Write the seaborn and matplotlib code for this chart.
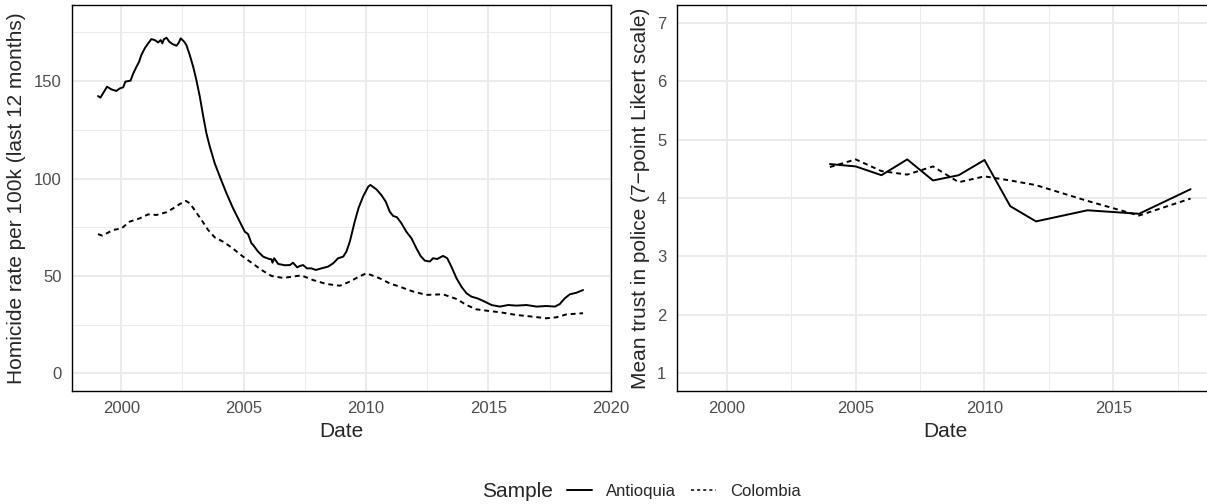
import numpy as np
import pandas as pd
import matplotlib
matplotlib.use("Agg")
import matplotlib.pyplot as plt
from matplotlib.lines import Line2D
import seaborn as sns

# ---------------- data ----------------
hom_ant_year = [1999.05, 1999.15, 1999.42, 1999.60, 1999.80, 1999.94, 2000.08, 2000.17, 2000.38, 2000.48,
                2000.59, 2000.73, 2000.82, 2000.96, 2001.10, 2001.23, 2001.37, 2001.51, 2001.61, 2001.68,
                2001.74, 2001.85, 2001.96, 2002.09, 2002.26, 2002.35, 2002.43, 2002.57, 2002.66, 2002.80,
                2002.94, 2003.07, 2003.21, 2003.34, 2003.48, 2003.62, 2003.82, 2004.03, 2004.30, 2004.57,
                2004.84, 2005.05, 2005.18, 2005.32, 2005.39, 2005.59, 2005.80, 2006.00, 2006.14, 2006.18,
                2006.25, 2006.41, 2006.68, 2006.89, 2007.02, 2007.19, 2007.29, 2007.43, 2007.59, 2007.77,
                2007.95, 2008.18, 2008.45, 2008.66, 2008.86, 2009.07, 2009.20, 2009.34, 2009.54, 2009.70,
                2009.88, 2010.09, 2010.18, 2010.43, 2010.63, 2010.81, 2010.97, 2011.11, 2011.27, 2011.45,
                2011.65, 2011.86, 2012.06, 2012.23, 2012.40, 2012.61, 2012.74, 2012.91, 2013.15, 2013.32,
                2013.49, 2013.70, 2013.90, 2014.11, 2014.31, 2014.58, 2014.86, 2015.13, 2015.47, 2015.81,
                2016.15, 2016.56, 2016.97, 2017.37, 2017.72, 2017.92, 2018.12, 2018.33, 2018.60, 2018.87]
hom_ant_rate = [142.3, 141.5, 147.1, 145.7, 144.9, 146.2, 146.8, 149.7, 150.2, 153.6,
                156.5, 159.9, 163.3, 166.8, 169.3, 171.5, 171.0, 169.8, 171.0, 169.3,
                171.4, 172.2, 170.2, 169.0, 168.1, 169.7, 171.9, 170.2, 168.5, 163.3,
                157.3, 150.5, 142.0, 132.6, 123.2, 116.3, 107.8, 100.9, 92.4, 84.7,
                77.9, 72.7, 71.5, 66.8, 65.9, 62.5, 59.9, 58.9, 58.5, 56.8,
                59.1, 56.2, 55.5, 55.6, 56.8, 54.4, 55.1, 55.6, 53.9, 53.9,
                53.1, 53.9, 54.8, 56.5, 59.1, 59.9, 62.5, 67.6, 77.9, 85.0,
                90.7, 95.8, 96.7, 94.4, 91.5, 88.1, 83.0, 80.8, 80.1, 77.0,
                72.7, 69.3, 64.2, 60.3, 57.9, 57.4, 59.1, 58.7, 60.3, 59.1,
                54.8, 48.8, 44.5, 41.1, 39.4, 38.4, 36.8, 35.1, 34.3, 35.1,
                34.8, 35.1, 34.3, 34.6, 34.3, 35.6, 38.5, 40.6, 41.4, 42.8]

hom_col_year = [1999.05, 1999.22, 1999.67, 2000.01, 2000.35, 2000.76, 2001.10, 2001.44, 2001.85, 2002.19,
                2002.39, 2002.64, 2002.80, 2003.00, 2003.28, 2003.55, 2003.82, 2004.16, 2004.50, 2004.98,
                2005.39, 2005.73, 2006.14, 2006.61, 2007.02, 2007.36, 2007.84, 2008.38, 2008.93, 2009.34,
                2009.72, 2010.02, 2010.56, 2010.97, 2011.38, 2011.93, 2012.47, 2013.15, 2013.70, 2014.11,
                2014.51, 2014.99, 2015.47, 2016.15, 2016.83, 2017.37, 2017.78, 2018.19, 2018.87]
hom_col_rate = [71.5, 70.7, 73.6, 74.4, 77.9, 79.6, 81.6, 81.3, 82.7, 85.2,
                86.9, 88.5, 87.3, 83.8, 78.7, 73.6, 69.8, 67.6, 64.7, 59.9,
                56.2, 53.1, 50.0, 49.0, 49.7, 50.3, 47.9, 45.9, 45.0, 47.1,
                49.7, 51.4, 48.8, 46.2, 44.5, 42.0, 40.3, 40.6, 38.2, 35.1,
                32.9, 32.1, 31.4, 30.0, 29.1, 28.3, 28.8, 30.3, 30.9]

trust_ant_year = [2004, 2005, 2006, 2007, 2008, 2009, 2010, 2011, 2012, 2014, 2016, 2018]
trust_ant_val = [4.58, 4.54, 4.39, 4.66, 4.30, 4.39, 4.65, 3.86, 3.60, 3.79, 3.73, 4.15]
trust_col_year = [2004, 2005, 2006, 2007, 2008, 2009, 2010, 2011, 2012, 2014, 2016, 2018]
trust_col_val = [4.53, 4.66, 4.46, 4.40, 4.54, 4.27, 4.37, 4.30, 4.22, 3.95, 3.70, 3.99]

samples = ["Antioquia", "Colombia"]
left_yticks = [0, 50, 100, 150]
right_yticks = [1, 2, 3, 4, 5, 6, 7]
left_xticks = [2000, 2005, 2010, 2015, 2020]
right_xticks = [2000, 2005, 2010, 2015]

hom = pd.concat([
    pd.DataFrame({"Date": hom_ant_year, "value": hom_ant_rate, "Sample": samples[0]}),
    pd.DataFrame({"Date": hom_col_year, "value": hom_col_rate, "Sample": samples[1]}),
])
trust = pd.concat([
    pd.DataFrame({"Date": trust_ant_year, "value": trust_ant_val, "Sample": samples[0]}),
    pd.DataFrame({"Date": trust_col_year, "value": trust_col_val, "Sample": samples[1]}),
])

# ---------------- style ----------------
sns.set_style("white")
plt.rcParams["font.family"] = ["Liberation Sans", "DejaVu Sans"]

W, H = 1207, 504
fig = plt.figure(figsize=(W / 100, H / 100), dpi=100)

def px_axes(x0, y0, x1, y1):
    return fig.add_axes([x0 / W, 1 - y1 / H, (x1 - x0) / W, (y1 - y0) / H])

ax1 = px_axes(72.3, 5, 610.7, 391)
ax2 = px_axes(676.7, 5, 1215, 391)

dashes = {"Antioquia": "", "Colombia": (2.5, 2.0)}
pal = {"Antioquia": "black", "Colombia": "black"}
GRID = "#EBEBEB"
TICKC = "#4D4D4D"

for ax, df in [(ax1, hom), (ax2, trust)]:
    sns.lineplot(data=df, x="Date", y="value", hue="Sample", style="Sample",
                 palette=pal, dashes=dashes, estimator=None, sort=False,
                 linewidth=1.4, legend=False, ax=ax, zorder=3)

# limits
ax1.set_xlim(1998.0, 2020.0)
ax1.set_ylim(-9, 189)
ax2.set_xlim(1998.05, 2018.95)
ax2.set_ylim(0.7, 7.3)

ax1.set_xticks(left_xticks)
ax1.set_yticks(left_yticks)
ax1.set_xticks([1997.5 + 5 * i for i in range(1, 5)], minor=True)
ax1.set_yticks([25, 75, 125, 175], minor=True)
ax2.set_xticks(right_xticks)
ax2.set_yticks(right_yticks)
ax2.set_xticks([2002.5, 2007.5, 2012.5, 2017.5], minor=True)

for ax in (ax1, ax2):
    ax.set_axisbelow(True)
    ax.grid(which="major", color=GRID, linewidth=1.5)
    ax.grid(which="minor", color=GRID, linewidth=0.75)
    ax.tick_params(which="both", length=0, pad=7.5, labelsize=12, labelcolor=TICKC)
    for s in ax.spines.values():
        s.set_visible(True)
        s.set_color("black")
        s.set_linewidth(1.0)
    ax.set_xlabel("Date", fontsize=15, labelpad=4)
    ax.set_facecolor("white")

ax1.set_ylabel("Homicide rate per 100k (last 12 months)", fontsize=15, va="center")
ax1.yaxis.set_label_coords((16.7 - 72.3) / 538.4, 0.5)
ax2.set_ylabel("Mean trust in police (7\u2212point Likert scale)", fontsize=15, va="center")
ax2.yaxis.set_label_coords((640 - 676.7) / 538.3, 0.5)

# legend at bottom
yc = 1 - 491.7 / H
fig.text(481.7 / W, yc, "Sample", fontsize=15, ha="left", va="center")
handles = [Line2D([], [], color="black", linewidth=1.4),
           Line2D([], [], color="black", linewidth=1.1, dashes=(2.0, 2.0))]
fig.legend(handles, samples, loc="center left", bbox_to_anchor=(566.7 / W, yc),
           ncol=2, frameon=False, fontsize=12, handlelength=1.5, handletextpad=0.85,
           columnspacing=0.9, borderpad=0, borderaxespad=0)

fig.savefig("out.png", dpi=100)
